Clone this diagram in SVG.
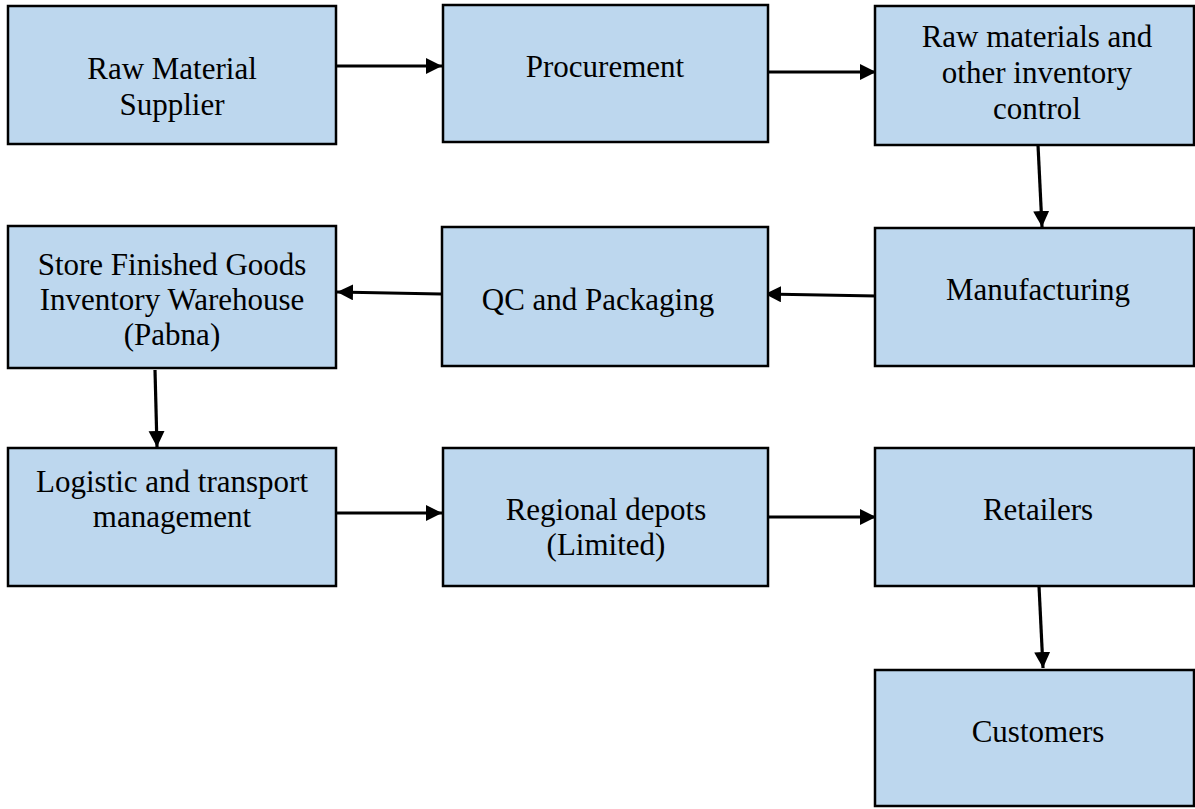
<svg xmlns="http://www.w3.org/2000/svg" width="1195" height="809" viewBox="0 0 1195 809">
<style>
.box{fill:#BDD7EE;stroke:#000;stroke-width:2.5}
.t{font-family:"Liberation Serif","Times New Roman",serif;font-size:31px;fill:#000;text-anchor:middle}
.c{stroke:#000;stroke-width:3.2;fill:none;marker-end:url(#ah)}
</style>
<defs>
<marker id="ah" markerWidth="6" markerHeight="6" refX="5" refY="2.5" orient="auto" markerUnits="strokeWidth">
<path d="M0,0 L5,2.5 L0,5 Z" fill="#000"/>
</marker>
</defs>
<rect width="1195" height="809" fill="#fff"/>
<g id="connectors">
<line class="c" x1="336" y1="66" x2="442" y2="66"/>
<line class="c" x1="768" y1="72" x2="876" y2="72"/>
<line class="c" x1="1038" y1="145" x2="1042" y2="227"/>
<line class="c" x1="877" y1="296" x2="765" y2="294"/>
<line class="c" x1="441" y1="294" x2="337" y2="292"/>
<line class="c" x1="155" y1="370" x2="157" y2="447"/>
<line class="c" x1="336" y1="513" x2="442" y2="513"/>
<line class="c" x1="768" y1="517" x2="876" y2="517"/>
<line class="c" x1="1039" y1="586" x2="1043" y2="668"/>
</g>
<g id="n1"><rect class="box" x="8" y="6" width="328" height="138"/>
<text class="t" x="172" y="79">Raw Material</text><text class="t" x="172" y="115">Supplier</text></g>
<g id="n2"><rect class="box" x="443" y="5" width="325" height="137"/>
<text class="t" x="605" y="77">Procurement</text></g>
<g id="n3"><rect class="box" x="875" y="6" width="319" height="139"/>
<text class="t" x="1037" y="47">Raw materials and</text><text class="t" x="1037" y="83">other inventory</text><text class="t" x="1037" y="119">control</text></g>
<g id="n4"><rect class="box" x="8" y="226" width="328" height="142"/>
<text class="t" x="172" y="275">Store Finished Goods</text><text class="t" x="172" y="310">Inventory Warehouse</text><text class="t" x="172" y="345">(Pabna)</text></g>
<g id="n5"><rect class="box" x="442" y="227" width="326" height="139"/>
<text class="t" x="598" y="310">QC and Packaging</text></g>
<g id="n6"><rect class="box" x="875" y="228" width="319" height="138"/>
<text class="t" x="1038" y="300">Manufacturing</text></g>
<g id="n7"><rect class="box" x="8" y="448" width="328" height="138"/>
<text class="t" x="172" y="492">Logistic and transport</text><text class="t" x="172" y="527">management</text></g>
<g id="n8"><rect class="box" x="443" y="448" width="325" height="138"/>
<text class="t" x="606" y="520">Regional depots</text><text class="t" x="606" y="555">(Limited)</text></g>
<g id="n9"><rect class="box" x="875" y="448" width="319" height="138"/>
<text class="t" x="1038" y="520">Retailers</text></g>
<g id="n10"><rect class="box" x="875" y="670" width="319" height="136"/>
<text class="t" x="1038" y="742">Customers</text></g>
</svg>
